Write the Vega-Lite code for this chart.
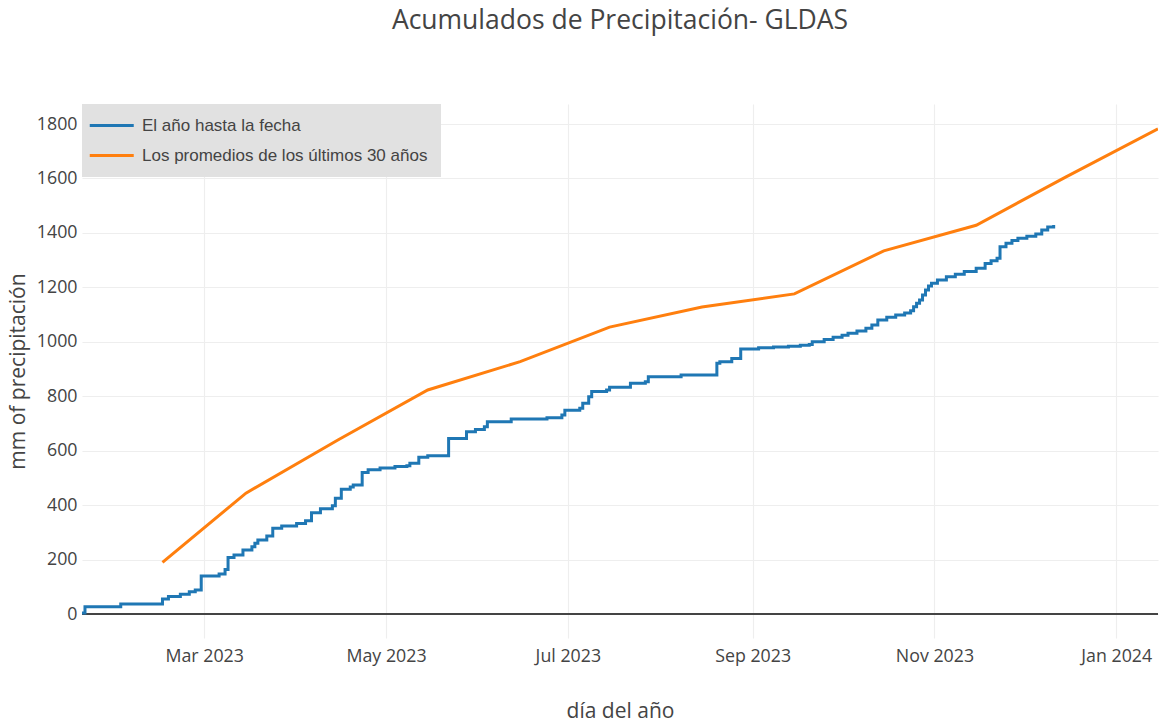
{
  "$schema": "https://vega.github.io/schema/vega-lite/v6.json",
  "width": 1076,
  "height": 534,
  "autosize": {"type": "none"},
  "padding": {"left": 82, "top": 104, "right": 4, "bottom": 85},
  "background": "white",
  "title": {
    "text": "Acumulados de Precipitación- GLDAS",
    "font": "Open Sans",
    "fontSize": 26.5,
    "fontWeight": "normal",
    "color": "#444",
    "anchor": "middle",
    "offset": 70
  },
  "config": {
    "view": {"stroke": null},
    "axis": {
      "labelFont": "Open Sans",
      "labelFontSize": 17.8,
      "labelColor": "#444",
      "titleFont": "Open Sans",
      "titleFontSize": 21,
      "titleFontWeight": "normal",
      "titleColor": "#444",
      "gridColor": "#eeeeee",
      "gridWidth": 1.2,
      "ticks": false,
      "domain": false
    }
  },
  "data": {
    "values": [
      {"fecha": "2023-01-19", "mm": 4, "serie": "El año hasta la fecha"},
      {"fecha": "2023-01-20", "mm": 27, "serie": "El año hasta la fecha"},
      {"fecha": "2023-02-01", "mm": 37, "serie": "El año hasta la fecha"},
      {"fecha": "2023-02-15", "mm": 55, "serie": "El año hasta la fecha"},
      {"fecha": "2023-02-17", "mm": 64, "serie": "El año hasta la fecha"},
      {"fecha": "2023-02-21", "mm": 73, "serie": "El año hasta la fecha"},
      {"fecha": "2023-02-24", "mm": 82, "serie": "El año hasta la fecha"},
      {"fecha": "2023-02-26", "mm": 88, "serie": "El año hasta la fecha"},
      {"fecha": "2023-02-28", "mm": 140, "serie": "El año hasta la fecha"},
      {"fecha": "2023-03-06", "mm": 147, "serie": "El año hasta la fecha"},
      {"fecha": "2023-03-08", "mm": 164, "serie": "El año hasta la fecha"},
      {"fecha": "2023-03-09", "mm": 208, "serie": "El año hasta la fecha"},
      {"fecha": "2023-03-11", "mm": 217, "serie": "El año hasta la fecha"},
      {"fecha": "2023-03-14", "mm": 235, "serie": "El año hasta la fecha"},
      {"fecha": "2023-03-17", "mm": 247, "serie": "El año hasta la fecha"},
      {"fecha": "2023-03-18", "mm": 260, "serie": "El año hasta la fecha"},
      {"fecha": "2023-03-19", "mm": 272, "serie": "El año hasta la fecha"},
      {"fecha": "2023-03-22", "mm": 287, "serie": "El año hasta la fecha"},
      {"fecha": "2023-03-24", "mm": 315, "serie": "El año hasta la fecha"},
      {"fecha": "2023-03-27", "mm": 323, "serie": "El año hasta la fecha"},
      {"fecha": "2023-04-01", "mm": 333, "serie": "El año hasta la fecha"},
      {"fecha": "2023-04-04", "mm": 343, "serie": "El año hasta la fecha"},
      {"fecha": "2023-04-06", "mm": 372, "serie": "El año hasta la fecha"},
      {"fecha": "2023-04-09", "mm": 387, "serie": "El año hasta la fecha"},
      {"fecha": "2023-04-13", "mm": 398, "serie": "El año hasta la fecha"},
      {"fecha": "2023-04-14", "mm": 425, "serie": "El año hasta la fecha"},
      {"fecha": "2023-04-16", "mm": 458, "serie": "El año hasta la fecha"},
      {"fecha": "2023-04-19", "mm": 467, "serie": "El año hasta la fecha"},
      {"fecha": "2023-04-20", "mm": 474, "serie": "El año hasta la fecha"},
      {"fecha": "2023-04-23", "mm": 520, "serie": "El año hasta la fecha"},
      {"fecha": "2023-04-25", "mm": 530, "serie": "El año hasta la fecha"},
      {"fecha": "2023-04-29", "mm": 536, "serie": "El año hasta la fecha"},
      {"fecha": "2023-05-04", "mm": 542, "serie": "El año hasta la fecha"},
      {"fecha": "2023-05-08", "mm": 545, "serie": "El año hasta la fecha"},
      {"fecha": "2023-05-09", "mm": 554, "serie": "El año hasta la fecha"},
      {"fecha": "2023-05-12", "mm": 576, "serie": "El año hasta la fecha"},
      {"fecha": "2023-05-15", "mm": 581, "serie": "El año hasta la fecha"},
      {"fecha": "2023-05-22", "mm": 645, "serie": "El año hasta la fecha"},
      {"fecha": "2023-05-28", "mm": 670, "serie": "El año hasta la fecha"},
      {"fecha": "2023-05-31", "mm": 678, "serie": "El año hasta la fecha"},
      {"fecha": "2023-06-03", "mm": 688, "serie": "El año hasta la fecha"},
      {"fecha": "2023-06-04", "mm": 706, "serie": "El año hasta la fecha"},
      {"fecha": "2023-06-12", "mm": 716, "serie": "El año hasta la fecha"},
      {"fecha": "2023-06-24", "mm": 721, "serie": "El año hasta la fecha"},
      {"fecha": "2023-06-29", "mm": 731, "serie": "El año hasta la fecha"},
      {"fecha": "2023-06-30", "mm": 749, "serie": "El año hasta la fecha"},
      {"fecha": "2023-07-05", "mm": 756, "serie": "El año hasta la fecha"},
      {"fecha": "2023-07-06", "mm": 774, "serie": "El año hasta la fecha"},
      {"fecha": "2023-07-08", "mm": 798, "serie": "El año hasta la fecha"},
      {"fecha": "2023-07-09", "mm": 817, "serie": "El año hasta la fecha"},
      {"fecha": "2023-07-14", "mm": 823, "serie": "El año hasta la fecha"},
      {"fecha": "2023-07-15", "mm": 833, "serie": "El año hasta la fecha"},
      {"fecha": "2023-07-22", "mm": 848, "serie": "El año hasta la fecha"},
      {"fecha": "2023-07-27", "mm": 853, "serie": "El año hasta la fecha"},
      {"fecha": "2023-07-28", "mm": 872, "serie": "El año hasta la fecha"},
      {"fecha": "2023-08-08", "mm": 878, "serie": "El año hasta la fecha"},
      {"fecha": "2023-08-20", "mm": 921, "serie": "El año hasta la fecha"},
      {"fecha": "2023-08-21", "mm": 927, "serie": "El año hasta la fecha"},
      {"fecha": "2023-08-25", "mm": 939, "serie": "El año hasta la fecha"},
      {"fecha": "2023-08-28", "mm": 974, "serie": "El año hasta la fecha"},
      {"fecha": "2023-09-03", "mm": 978, "serie": "El año hasta la fecha"},
      {"fecha": "2023-09-08", "mm": 981, "serie": "El año hasta la fecha"},
      {"fecha": "2023-09-13", "mm": 984, "serie": "El año hasta la fecha"},
      {"fecha": "2023-09-17", "mm": 987, "serie": "El año hasta la fecha"},
      {"fecha": "2023-09-20", "mm": 990, "serie": "El año hasta la fecha"},
      {"fecha": "2023-09-21", "mm": 1000, "serie": "El año hasta la fecha"},
      {"fecha": "2023-09-25", "mm": 1008, "serie": "El año hasta la fecha"},
      {"fecha": "2023-09-28", "mm": 1017, "serie": "El año hasta la fecha"},
      {"fecha": "2023-10-01", "mm": 1024, "serie": "El año hasta la fecha"},
      {"fecha": "2023-10-03", "mm": 1031, "serie": "El año hasta la fecha"},
      {"fecha": "2023-10-06", "mm": 1040, "serie": "El año hasta la fecha"},
      {"fecha": "2023-10-09", "mm": 1050, "serie": "El año hasta la fecha"},
      {"fecha": "2023-10-11", "mm": 1062, "serie": "El año hasta la fecha"},
      {"fecha": "2023-10-13", "mm": 1080, "serie": "El año hasta la fecha"},
      {"fecha": "2023-10-16", "mm": 1090, "serie": "El año hasta la fecha"},
      {"fecha": "2023-10-19", "mm": 1098, "serie": "El año hasta la fecha"},
      {"fecha": "2023-10-22", "mm": 1106, "serie": "El año hasta la fecha"},
      {"fecha": "2023-10-24", "mm": 1114, "serie": "El año hasta la fecha"},
      {"fecha": "2023-10-25", "mm": 1129, "serie": "El año hasta la fecha"},
      {"fecha": "2023-10-26", "mm": 1142, "serie": "El año hasta la fecha"},
      {"fecha": "2023-10-27", "mm": 1154, "serie": "El año hasta la fecha"},
      {"fecha": "2023-10-28", "mm": 1172, "serie": "El año hasta la fecha"},
      {"fecha": "2023-10-29", "mm": 1190, "serie": "El año hasta la fecha"},
      {"fecha": "2023-10-30", "mm": 1205, "serie": "El año hasta la fecha"},
      {"fecha": "2023-10-31", "mm": 1215, "serie": "El año hasta la fecha"},
      {"fecha": "2023-11-02", "mm": 1227, "serie": "El año hasta la fecha"},
      {"fecha": "2023-11-05", "mm": 1239, "serie": "El año hasta la fecha"},
      {"fecha": "2023-11-08", "mm": 1248, "serie": "El año hasta la fecha"},
      {"fecha": "2023-11-11", "mm": 1258, "serie": "El año hasta la fecha"},
      {"fecha": "2023-11-15", "mm": 1270, "serie": "El año hasta la fecha"},
      {"fecha": "2023-11-18", "mm": 1288, "serie": "El año hasta la fecha"},
      {"fecha": "2023-11-20", "mm": 1298, "serie": "El año hasta la fecha"},
      {"fecha": "2023-11-22", "mm": 1307, "serie": "El año hasta la fecha"},
      {"fecha": "2023-11-23", "mm": 1349, "serie": "El año hasta la fecha"},
      {"fecha": "2023-11-25", "mm": 1362, "serie": "El año hasta la fecha"},
      {"fecha": "2023-11-27", "mm": 1372, "serie": "El año hasta la fecha"},
      {"fecha": "2023-11-29", "mm": 1380, "serie": "El año hasta la fecha"},
      {"fecha": "2023-12-02", "mm": 1388, "serie": "El año hasta la fecha"},
      {"fecha": "2023-12-05", "mm": 1396, "serie": "El año hasta la fecha"},
      {"fecha": "2023-12-07", "mm": 1411, "serie": "El año hasta la fecha"},
      {"fecha": "2023-12-09", "mm": 1422, "serie": "El año hasta la fecha"},
      {"fecha": "2023-12-11", "mm": 1429, "serie": "El año hasta la fecha"},
      {"fecha": "2023-02-15", "mm": 190, "serie": "Los promedios de los últimos 30 años"},
      {"fecha": "2023-03-15", "mm": 444, "serie": "Los promedios de los últimos 30 años"},
      {"fecha": "2023-04-15", "mm": 640, "serie": "Los promedios de los últimos 30 años"},
      {"fecha": "2023-05-15", "mm": 823, "serie": "Los promedios de los últimos 30 años"},
      {"fecha": "2023-06-15", "mm": 927, "serie": "Los promedios de los últimos 30 años"},
      {"fecha": "2023-07-15", "mm": 1054, "serie": "Los promedios de los últimos 30 años"},
      {"fecha": "2023-08-15", "mm": 1128, "serie": "Los promedios de los últimos 30 años"},
      {"fecha": "2023-09-15", "mm": 1176, "serie": "Los promedios de los últimos 30 años"},
      {"fecha": "2023-10-15", "mm": 1334, "serie": "Los promedios de los últimos 30 años"},
      {"fecha": "2023-11-15", "mm": 1428, "serie": "Los promedios de los últimos 30 años"},
      {"fecha": "2023-12-15", "mm": 1605, "serie": "Los promedios de los últimos 30 años"},
      {"fecha": "2024-01-15", "mm": 1782, "serie": "Los promedios de los últimos 30 años"}
    ]
  },
  "encoding": {
    "x": {
      "field": "fecha",
      "type": "temporal",
      "scale": {
        "type": "utc",
        "domain": [
          {"year": 2023, "month": 1, "date": 19, "utc": true},
          {"year": 2024, "month": 1, "date": 15, "utc": true}
        ]
      },
      "axis": {
        "title": "día del año",
        "format": "%b %Y",
        "labelPadding": 9,
        "titlePadding": 36,
        "values": [
          {"year": 2023, "month": 3, "date": 1, "utc": true},
          {"year": 2023, "month": 5, "date": 1, "utc": true},
          {"year": 2023, "month": 7, "date": 1, "utc": true},
          {"year": 2023, "month": 9, "date": 1, "utc": true},
          {"year": 2023, "month": 11, "date": 1, "utc": true},
          {"year": 2024, "month": 1, "date": 1, "utc": true}
        ]
      }
    },
    "y": {
      "field": "mm",
      "type": "quantitative",
      "scale": {"domain": [-88, 1873.5], "nice": false, "zero": false},
      "axis": {
        "title": "mm of precipitación",
        "format": "d",
        "values": [0, 200, 400, 600, 800, 1000, 1200, 1400, 1600, 1800],
        "labelPadding": 5,
        "titlePadding": 8
      }
    },
    "color": {
      "field": "serie",
      "type": "nominal",
      "scale": {
        "domain": ["El año hasta la fecha", "Los promedios de los últimos 30 años"],
        "range": ["#1f77b4", "#ff7f0e"]
      },
      "legend": {
        "title": null,
        "orient": "top-left",
        "offset": 0,
        "fillColor": "#e1e1e1",
        "padding": 13,
        "labelFont": "Liberation Sans",
        "labelFontSize": 17,
        "labelColor": "#444",
        "labelLimit": 0,
        "symbolType": "M-2.5,0L5.5,0",
        "symbolSize": 121,
        "symbolStrokeWidth": 3,
        "labelOffset": 30,
        "rowPadding": 12
      }
    }
  },
  "layer": [
    {
      "mark": {"type": "rule", "color": "#444", "strokeWidth": 1.2},
      "encoding": {"y": {"datum": 0}, "x": null, "color": null}
    },
    {
      "transform": [{"filter": "datum.serie === 'Los promedios de los últimos 30 años'"}],
      "mark": {"type": "line", "strokeWidth": 3, "clip": true}
    },
    {
      "transform": [{"filter": "datum.serie === 'El año hasta la fecha'"}],
      "mark": {"type": "line", "strokeWidth": 3, "interpolate": "step-after", "clip": true}
    }
  ]
}
